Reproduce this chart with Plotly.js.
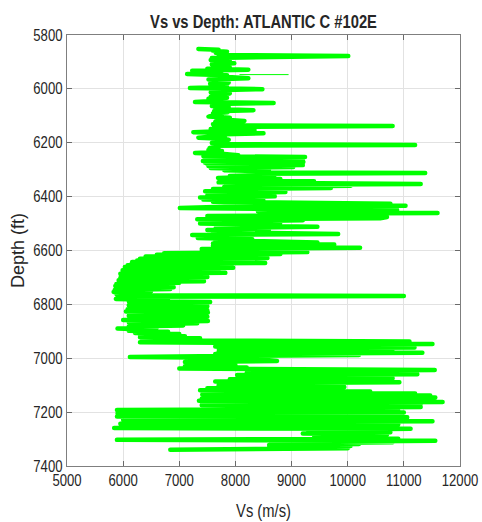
<!DOCTYPE html>
<html>
<head>
<meta charset="utf-8">
<script src="https://cdn.plot.ly/plotly-3.0.1.min.js"></script>
<style>
  html, body { margin: 0; padding: 0; background: #ffffff; }
  #chart { width: 482px; height: 522px; }
  #chart .js-line { stroke-linejoin: round !important; stroke-linecap: round !important; }
  /* condensed look for the chart and x-axis titles */
  #chart text.gtitle, #chart text.xtitle {
    transform-box: fill-box;
    transform-origin: 50% 50%;
    transform: scaleX(0.82);
  }
</style>
</head>
<body>
<div id="chart"></div>
<script>
// Shear-wave velocity log, ATLANTIC C #102E. Depth in ft, Vs in m/s.

// Upper interval: narrow, steady log with a few isolated fast streaks
const depthUpper = [
  5852,5855,5858,5862,5866,5870,5874,5878,5881,5885,
  5889,5893,5897,5901,5905,5909,5913,5917,5921,5925,
  5929,5933,5937,5941,5945,5949,5953,5957,5961,5965,
  5969,5973,5977,5981,5985,5989,5993,5997,6001,6005,
  6009,6013,6017,6021,6025,6029,6033,6037,6041,6045,
  6049,6052,6056,6060,6064,6068,6072,6076,6079,6083,
  6087,6091,6095,6099,6103,6107,6111,6115,6119,6123,
  6127,6131,6135,6138,6141,6145,6149,6153,6157,6161,
  6165,6169,6173,6177,6181,6185,6189,6193,6197,6201,
  6205,6208,6211,6215,6219,6223,6227,6231,6235,6238
];
const vsUpper = [
  7340,7700,7600,7850,7650,7800,7700,10010,7800,7580,
  7850,7560,7900,7620,7980,7580,7760,7600,7900,7500,
  8230,7230,7750,7600,7140,7850,7650,7950,8230,7520,
  7800,7600,7880,7550,7780,7620,7850,7190,8480,7650,
  7820,7560,7900,7620,7820,7560,7850,7520,7760,7600,
  7280,8680,7640,7820,7580,7880,7640,7780,8320,7620,
  7860,7600,7760,7640,7520,7900,7660,7820,8160,7640,
  7880,7600,7780,10800,7620,7860,7560,8340,7700,7250,
  8500,7620,7820,7580,7340,7760,7880,7620,7800,7580,
  7760,11200,7620,7700,7540,7700,7520,7760,7600,7280
];

// Middle interval: wider scatter with fast streaks past 11000 m/s
const depthMiddle = [
  6242,6246,6250,6253,6256,6259,6262,6265,6268,6271,
  6274,6277,6280,6283,6286,6290,6294,6298,6302,6306,
  6310,6312,6315,6319,6323,6327,6331,6335,6339,6343,
  6347,6351,6353,6356,6360,6364,6368,6372,6376,6380,
  6383,6387,6391,6395,6399,6403,6407,6411,6415,6419,
  6423,6426,6430,6434,6438,6442,6446,6450,6454,6458,
  6461,6464,6468,6472,6476,6480,6484,6488,6492,6496,
  6500,6504,6508,6512,6516,6520,6524,6528,6532,6536,
  6539,6542,6546,6550,6554,6558,6562,6566,6570,6574,
  6578,6582,6586,6590,6594,6598,6602,6606
];
const vsMiddle = [
  7800,8050,7430,9240,7600,9150,7480,9200,7420,9210,
  7460,9180,7500,9200,7520,9030,7560,8600,7800,8500,
  8300,11380,8250,8700,7900,8300,7690,8800,7720,9400,
  7700,9900,11300,8200,10050,7800,9700,7600,8600,7460,
  8890,7600,8500,7500,8700,7370,8390,7430,8500,7600,
  9600,10760,8100,11030,7800,7010,8600,10880,8400,10000,
  11600,8600,10400,7500,10700,10580,7320,9200,7700,8800,
  7370,8400,7800,9460,7650,8600,7500,8300,7600,8800,
  9830,7230,8200,7650,7330,8300,7640,8500,9460,7600,
  9760,7600,8200,10220,7400,8000,7400,9280
];

// Slow interval: velocity drops to about 6000 m/s
const depthSlow = [
  6610,6613,6616,6619,6622,6625,6628,6631,6634,6637,
  6640,6643,6646,6649,6652,6655,6658,6661,6664,6667,
  6670,6673,6676,6679,6683,6686,6690,6694,6698,6702,
  6706,6710,6714,6717,6720,6724,6728,6732,6736,6740,
  6743,6747,6751,6754,6758,6762,6766,6769,6772,6776,
  6780,6784,6788,6791,6795,6799,6803,6807,6810,6814,
  6818,6822,6826,6830,6834,6838,6842,6846,6850,6854,
  6858,6862,6866,6870,6874,6878,6882,6886,6890,6894,
  6898,6902,6906,6910,6914,6918,6922,6926,6930,6934
];
const vsSlow = [
  6730,8800,6600,8400,6400,8200,8570,6300,7900,6250,
  8080,6160,8530,6150,7600,6080,7700,6030,7960,6050,
  7500,5990,7700,6000,7820,5950,7300,5960,7500,5950,
  7100,5920,7440,5950,7000,5880,6600,5860,6900,5870,
  6840,5850,6500,5830,6300,5880,6200,11000,5900,6400,
  5870,6800,6100,7550,6150,7400,6100,7500,6120,7300,
  6080,7500,6050,7510,6150,7200,6100,7500,6200,7100,
  6000,7510,6100,7320,6300,7070,6100,6600,5900,6500,
  6100,6800,6210,7000,6300,7100,6300,7370,6340,7400
];

// Lower interval: fast, strongly interbedded
const depthLower = [
  6938,6941,6944,6947,6950,6953,6956,6960,6963,6966,
  6969,6972,6976,6980,6984,6988,6991,6995,6999,7003,
  7007,7010,7014,7018,7022,7026,7030,7034,7038,7041,
  7044,7047,7051,7055,7059,7062,7066,7070,7074,7078,
  7082,7086,7089,7092,7096,7100,7104,7107,7111,7115,
  7119,7123,7127,7131,7135,7138,7142,7146,7150,7154,
  7158,7162,7166,7170,7174,7178,7181,7185,7188
];
const vsLower = [
  11100,6300,9500,11510,7700,10500,7640,11190,7700,10800,
  7900,10600,7700,11330,7640,10200,8200,6120,8400,7200,
  8600,8740,7100,8000,7300,8000,7100,8200,7000,9000,
  11550,8600,10800,8200,11240,8030,10400,8300,10800,7900,
  10600,7640,10920,8500,9600,7700,9400,9940,7500,9300,
  7370,10400,7600,11200,7410,11470,8200,11560,7400,10900,
  7350,11690,8000,11300,7400,10800,11300,8100,10600
];

// Base interval: widest spread, slow and fast beds alternating
const depthBase = [
  7192,7195,7198,7201,7204,7207,7210,7213,7216,7219,
  7222,7225,7228,7231,7234,7237,7240,7243,7246,7249,
  7252,7255,7259,7262,7265,7268,7271,7275,7279,7283,
  7287,7291,7295,7299,7303,7306,7309,7312,7315,7318,
  7322,7326,7330,7334,7337,7340
];
const vsBase = [
  5890,10900,6200,11000,5900,10500,6500,10700,5890,11060,
  6400,10200,6000,10800,11510,7000,10500,5950,10900,6500,
  10700,6200,5840,11120,9500,10600,9300,10760,9200,10700,
  9400,10500,9600,10900,5890,11560,9800,10800,9400,10200,
  8600,10050,8600,10000,8600,6840
];

// Single thin streak near 5947 ft
const depthStreak = [5947, 5947];
const vsStreak = [8080, 8940];

const depthFt = [].concat(depthUpper, depthMiddle, depthSlow, depthLower, depthBase);
const vsMs = [].concat(vsUpper, vsMiddle, vsSlow, vsLower, vsBase);

const xTickVals = [5000, 6000, 7000, 8000, 9000, 10000, 11000, 12000];
const yTickVals = [5800, 6000, 6200, 6400, 6600, 6800, 7000, 7200, 7400];

const sans = '"Liberation Sans", Arial, sans-serif';
const green = '#00ff00';
// horizontal labels are set in a condensed width
const condense = 0.82;

const traces = [
  {
    type: 'scatter', mode: 'lines',
    x: vsMs, y: depthFt,
    line: { color: green, width: 4.5 },
    hoverinfo: 'skip', showlegend: false
  },
  {
    type: 'scatter', mode: 'lines',
    x: vsStreak, y: depthStreak,
    line: { color: green, width: 1 },
    hoverinfo: 'skip', showlegend: false
  }
];

const axisCommon = {
  showgrid: true,
  gridcolor: '#e2e2e2',
  gridwidth: 1,
  showline: true,
  linecolor: '#7f7f7f',
  linewidth: 1.3,
  mirror: 'ticks',
  ticks: 'inside',
  ticklen: 5,
  tickwidth: 1,
  tickcolor: '#6a6a6a',
  zeroline: false,
  ticklabeloverflow: 'allow',
  tickfont: { family: sans, size: 16, color: '#262626' }
};

const layout = {
  width: 482,
  height: 522,
  margin: { l: 67, r: 22, t: 35, b: 56, pad: 0 },
  paper_bgcolor: '#ffffff',
  plot_bgcolor: '#ffffff',
  title: {
    text: 'Vs vs Depth: ATLANTIC C #102E',
    font: { family: sans, size: 18, weight: 700, color: '#262626' },
    x: 0.5, xref: 'paper', xanchor: 'center',
    y: 0.958, yref: 'container', yanchor: 'middle'
  },
  xaxis: Object.assign({}, axisCommon, {
    range: [5000, 12000],
    tickvals: xTickVals,
    ticktext: xTickVals.map(String),
    title: { text: 'Vs (m/s)', standoff: 16, font: { family: sans, size: 18, color: '#262626' } }
  }),
  yaxis: Object.assign({}, axisCommon, {
    range: [7400, 5800],
    tickvals: yTickVals,
    ticktext: yTickVals.map(String),
    title: { text: 'Depth (ft)', standoff: 1, font: { family: sans, size: 18, color: '#262626' } }
  })
};

// Squeeze horizontal labels about their anchor point; nudge the depth title toward the axis
function condenseLabels(gd) {
  gd.querySelectorAll('.xtick text, .ytick text, text.gtitle, text.xtitle').forEach(function (t) {
    const x = parseFloat(t.getAttribute('x')) || 0;
    const suffix = ' translate(' + x + ',0) scale(' + condense + ',1) translate(' + (-x) + ',0)';
    const tr = t.getAttribute('transform') || '';
    if (tr.slice(-suffix.length) !== suffix) t.setAttribute('transform', tr + suffix);
  });
  gd.querySelectorAll('text.ytitle').forEach(function (t) {
    const prefix = 'translate(4,0) ';
    const tr = t.getAttribute('transform') || '';
    if (tr.indexOf(prefix) !== 0) t.setAttribute('transform', prefix + tr);
  });
}

Plotly.newPlot('chart', traces, layout, { staticPlot: true, displayModeBar: false }).then(function (gd) {
  condenseLabels(gd);
  gd.on('plotly_afterplot', function () { condenseLabels(gd); });
});
</script>
</body>
</html>
